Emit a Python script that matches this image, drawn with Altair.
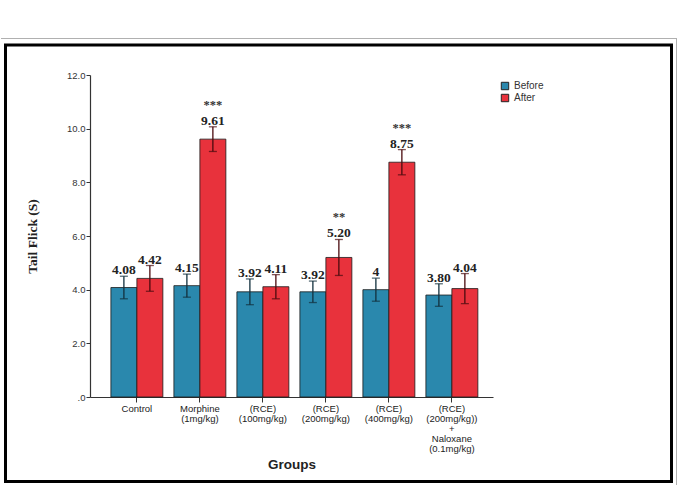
import altair as alt
import pandas as pd

# Tail-flick latency (seconds), mean and SEM per group, before and after treatment
groups = [
    "Control",
    "Morphine\n(1mg/kg)",
    "(RCE)\n(100mg/kg)",
    "(RCE)\n(200mg/kg)",
    "(RCE)\n(400mg/kg)",
    "(RCE)\n(200mg/kg))\n+\nNaloxane\n(0.1mg/kg)",
]
phases = ["Before", "After"]

before_mean = [4.08, 4.15, 3.92, 3.92, 4.00, 3.80]
before_label = ["4.08", "4.15", "3.92", "3.92", "4", "3.80"]
before_sem = [0.42, 0.43, 0.48, 0.40, 0.43, 0.42]

after_mean = [4.42, 9.61, 4.11, 5.20, 8.75, 4.04]
after_label = ["4.42", "9.61", "4.11", "5.20", "8.75", "4.04"]
after_sem = [0.48, 0.46, 0.45, 0.67, 0.47, 0.56]

# significance marks over the "After" bars
stars = ["", "***", "", "**", "***", ""]

rows = []
for i, g in enumerate(groups):
    for p, m, s, lab in (
        ("Before", before_mean[i], before_sem[i], before_label[i]),
        ("After", after_mean[i], after_sem[i], after_label[i]),
    ):
        rows.append(
            {
                "group": g,
                "phase": p,
                "mean": m,
                "lo": m - s,
                "hi": m + s,
                "label": lab,
                "stars": stars[i] if p == "After" else "",
            }
        )
df = pd.DataFrame(rows)

BLUE = "#2a88ad"
RED = "#e8323c"

x_enc = alt.X(
    "group:N",
    sort=groups,
    scale=alt.Scale(paddingInner=0.175, paddingOuter=0.286, align=0.58),
    axis=alt.Axis(
        title="Groups",
        labelExpr="split(datum.label, '\\n')",
        labelAngle=0,
        labelFont="Liberation Sans",
        labelFontSize=9.5,
        labelColor="#222",
        labelLineHeight=10,
        labelPadding=1,
        labelOverlap=False,
        tickSize=5,
        tickColor="#333",
        domainColor="#333",
        domainWidth=1.2,
        titleFont="Liberation Sans",
        titleFontSize=13.5,
        titleFontWeight="bold",
        titleColor="#222",
        titleY=67,
        titleBaseline="middle",
    ),
)
xo = alt.XOffset("phase:N", sort=phases, scale=alt.Scale(paddingInner=0))

y_scale = alt.Scale(domain=[0, 12], nice=False)
y_axis = alt.Axis(
    title="Tail Flick (S)",
    values=[0, 2, 4, 6, 8, 10, 12],
    labelExpr="datum.value == 0 ? '.0' : format(datum.value, '.1f')",
    labelFont="Liberation Sans",
    labelFontSize=9.5,
    labelColor="#333",
    labelPadding=1,
    tickSize=4,
    tickColor="#333",
    domainColor="#333",
    domainWidth=1.2,
    grid=False,
    titleFont="Liberation Serif",
    titleFontSize=13.5,
    titleFontWeight="bold",
    titleColor="#222",
    titleX=-58,
    titleBaseline="middle",
)

base = alt.Chart(df)

bars = base.mark_bar(stroke="#1a1a1a", strokeWidth=0.8).encode(
    x=x_enc,
    xOffset=xo,
    y=alt.Y("mean:Q", scale=y_scale, axis=y_axis),
    color=alt.Color(
        "phase:N",
        sort=phases,
        scale=alt.Scale(domain=phases, range=[BLUE, RED]),
        legend=alt.Legend(
            title=None,
            orient="none",
            legendX=410,
            legendY=6,
            symbolType="square",
            symbolSize=55,
            symbolStrokeColor="#222",
            symbolStrokeWidth=1,
            symbolOpacity=1,
            labelFont="Liberation Sans",
            labelFontSize=10,
            labelColor="#333",
            rowPadding=0,
            labelOffset=4,
            padding=0,
        ),
    ),
)

err_color = alt.condition(
    alt.datum.phase == "Before", alt.value("#12303d"), alt.value("#4a0b0e")
)

err = base.mark_rule(strokeWidth=1.3).encode(
    x=alt.X("group:N", sort=groups),
    xOffset=xo,
    y=alt.Y("lo:Q", scale=y_scale),
    y2="hi:Q",
    color=err_color,
)
cap_hi = base.mark_tick(size=8, thickness=1.3).encode(
    x=alt.X("group:N", sort=groups),
    xOffset=xo,
    y=alt.Y("hi:Q", scale=y_scale),
    color=err_color,
)
cap_lo = base.mark_tick(size=8, thickness=1.3).encode(
    x=alt.X("group:N", sort=groups),
    xOffset=xo,
    y=alt.Y("lo:Q", scale=y_scale),
    color=err_color,
)

values = base.mark_text(
    font="Liberation Serif",
    fontSize=13.5,
    fontWeight="bold",
    color="#222",
    baseline="alphabetic",
    dy=-2,
).encode(
    x=alt.X("group:N", sort=groups),
    xOffset=xo,
    y=alt.Y("hi:Q", scale=y_scale),
    text="label:N",
)

sig = base.mark_text(
    font="Liberation Serif",
    fontSize=12.5,
    fontWeight="bold",
    color="#333",
    baseline="alphabetic",
    dy=-18,
).encode(
    x=alt.X("group:N", sort=groups),
    xOffset=xo,
    y=alt.Y("hi:Q", scale=y_scale),
    text="stars:N",
)

# frame around the figure
one = alt.Chart(pd.DataFrame({"k": [0]}))
frame = one.mark_rect(fillOpacity=0, stroke="#000", strokeWidth=3).encode(
    x=alt.value(-84.5), x2=alt.value(581.5), y=alt.value(-30), y2=alt.value(406.5)
)
edge_top = one.mark_rule(color="#b0b0b0", strokeWidth=1).encode(
    x=alt.value(-89), x2=alt.value(587), y=alt.value(-36.5)
)
edge_right = one.mark_rule(color="#b0b0b0", strokeWidth=1).encode(
    x=alt.value(586.5), y=alt.value(-36.5), y2=alt.value(410)
)

chart = (
    alt.layer(bars, err, cap_hi, cap_lo, values, sig, frame, edge_top, edge_right)
    .properties(
        width=403,
        height=322,
        padding={"left": 0, "top": 38, "right": 0, "bottom": 0},
        background="white",
    )
    .configure_view(stroke=None)
)

chart.save("out.html", embed_options={"renderer": "svg", "actions": False})
